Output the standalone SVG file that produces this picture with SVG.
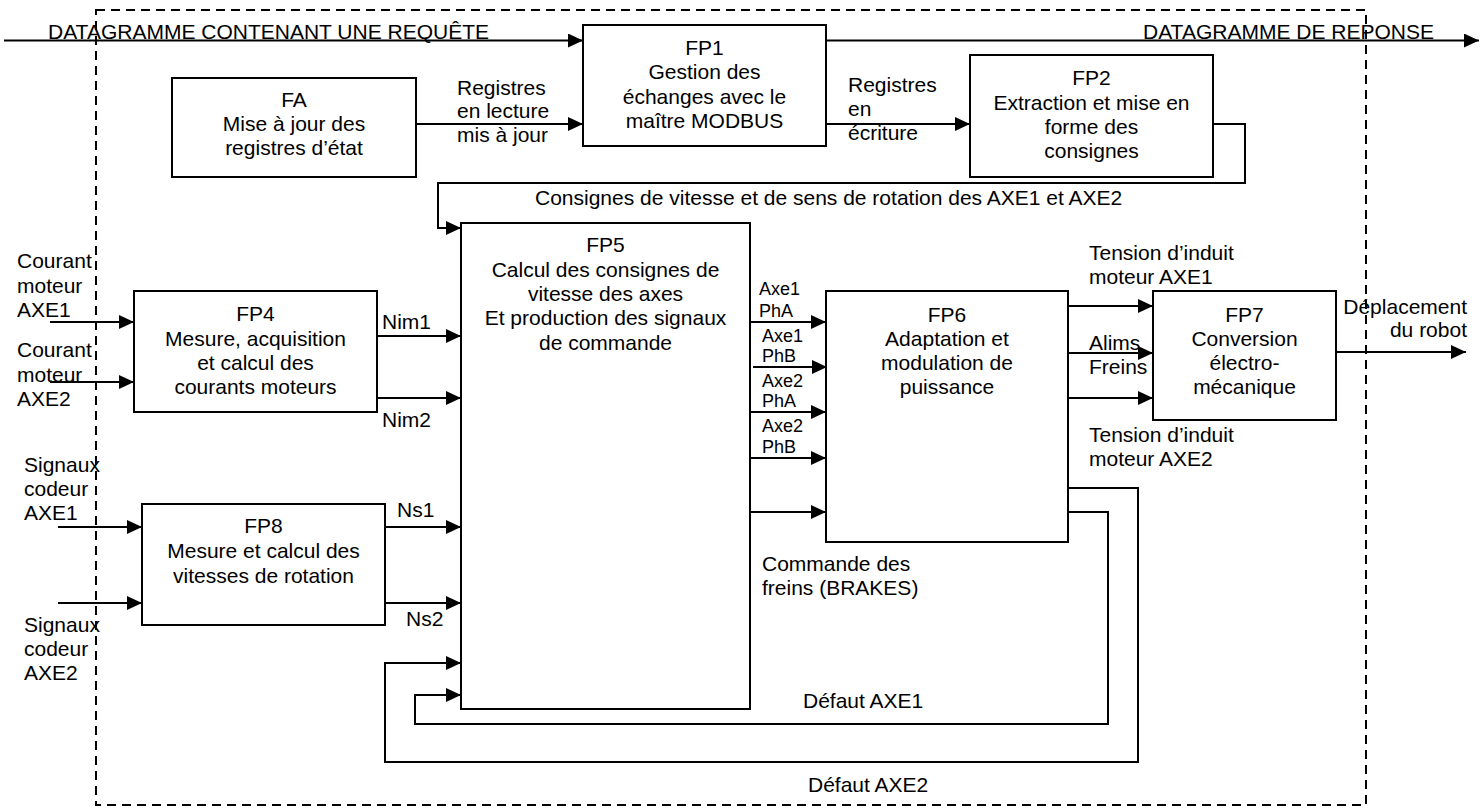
<svg xmlns="http://www.w3.org/2000/svg" width="1481" height="809" viewBox="0 0 1481 809">
<defs>
<marker id="ah" markerUnits="userSpaceOnUse" markerWidth="15" markerHeight="14" refX="15" refY="7" orient="auto"><path d="M0,0 L15,7 L0,14 z" fill="#000"/></marker>
<style>
.box{fill:#fff;stroke:#000;stroke-width:2}
.ln{fill:none;stroke:#000;stroke-width:2}
.ar{marker-end:url(#ah)}
.bd{fill:none;stroke:#000;stroke-width:2;stroke-dasharray:9,6}
text{font-family:"Liberation Sans",Arial,sans-serif;font-size:21px;fill:#000}
.c{text-anchor:middle}
.s{font-size:18px}
.e{text-anchor:end}
</style>
</defs>
<rect id="boundary" class="bd" x="96" y="10" width="1270" height="795"/>
<g id="connectors">
<path class="ln ar" d="M4,40.5 H583"/>
<path class="ln ar" d="M826,40.5 H1479"/>
<path class="ln ar" d="M416,124 H583"/>
<path class="ln ar" d="M826,124 H970"/>
<path class="ln ar" d="M1213,124 H1245 V183 H438 V228 H461"/>
<path class="ln ar" d="M50,322 H134"/>
<path class="ln ar" d="M50,382 H134"/>
<path class="ln ar" d="M377,336 H461"/>
<path class="ln ar" d="M377,398 H461"/>
<path class="ln ar" d="M58,527 H142"/>
<path class="ln ar" d="M58,603 H142"/>
<path class="ln ar" d="M385,527 H461"/>
<path class="ln ar" d="M385,603 H461"/>
<path class="ln ar" d="M750,322 H826"/>
<path class="ln ar" d="M753,367 H827"/>
<path class="ln ar" d="M750,412 H826"/>
<path class="ln ar" d="M750,458 H826"/>
<path class="ln ar" d="M750,512 H826"/>
<path class="ln ar" d="M1068,306 H1153"/>
<path class="ln ar" d="M1068,353 H1153"/>
<path class="ln ar" d="M1068,398 H1153"/>
<path class="ln ar" d="M1336,352 H1466"/>
<path class="ln ar" d="M1068,488 H1138 V762 H385 V663 H461"/>
<path class="ln ar" d="M1068,512 H1108 V724 H415 V695 H461"/>
<text x="48" y="39">DATAGRAMME CONTENANT UNE REQUÊTE</text>
<text x="1143" y="39">DATAGRAMME DE REPONSE</text>
<text x="457" y="95">Registres</text>
<text x="457" y="118">en lecture</text>
<text x="457" y="142">mis à jour</text>
<text x="848" y="92">Registres</text>
<text x="848" y="116">en</text>
<text x="848" y="140">écriture</text>
<text x="535" y="205">Consignes de vitesse et de sens de rotation des AXE1 et AXE2</text>
<text x="17" y="268">Courant</text>
<text x="17" y="293">moteur</text>
<text x="17" y="317">AXE1</text>
<text x="17" y="357">Courant</text>
<text x="17" y="382">moteur</text>
<text x="17" y="406">AXE2</text>
<text x="382" y="329">Nim1</text>
<text x="382" y="427">Nim2</text>
<text x="24" y="472">Signaux</text>
<text x="24" y="496">codeur</text>
<text x="24" y="520">AXE1</text>
<text x="24" y="632">Signaux</text>
<text x="24" y="656">codeur</text>
<text x="24" y="680">AXE2</text>
<text x="397" y="517">Ns1</text>
<text x="406" y="626">Ns2</text>
<text class="s" x="759" y="295">Axe1</text>
<text class="s" x="759" y="317">PhA</text>
<text class="s" x="762" y="342">Axe1</text>
<text class="s" x="762" y="362">PhB</text>
<text class="s" x="762" y="387">Axe2</text>
<text class="s" x="762" y="407">PhA</text>
<text class="s" x="762" y="432">Axe2</text>
<text class="s" x="762" y="453">PhB</text>
<text x="762" y="571">Commande des</text>
<text x="762" y="595">freins (BRAKES)</text>
<text x="803" y="708">Défaut AXE1</text>
<text x="808" y="792">Défaut AXE2</text>
<text x="1089" y="260">Tension d’induit</text>
<text x="1089" y="284">moteur AXE1</text>
<text x="1089" y="350">Alims</text>
<text x="1089" y="374">Freins</text>
<text x="1089" y="442">Tension d’induit</text>
<text x="1089" y="466">moteur AXE2</text>
<text class="e" x="1467" y="314">Déplacement</text>
<text class="e" x="1467" y="337">du robot</text>
</g>
<g id="FA">
<rect class="box" x="172" y="78" width="244" height="99"/>
<text class="c" x="294" y="107">FA</text>
<text class="c" x="294" y="131">Mise à jour des</text>
<text class="c" x="294" y="155">registres d’état</text>
</g>
<g id="FP1">
<rect class="box" x="583" y="25" width="243" height="121"/>
<text class="c" x="704.5" y="55">FP1</text>
<text class="c" x="704.5" y="79">Gestion des</text>
<text class="c" x="704.5" y="103.5">échanges avec le</text>
<text class="c" x="704.5" y="128">maître MODBUS</text>
</g>
<g id="FP2">
<rect class="box" x="970" y="55" width="243" height="122"/>
<text class="c" x="1091.5" y="85">FP2</text>
<text class="c" x="1091.5" y="109.5">Extraction et mise en</text>
<text class="c" x="1091.5" y="134">forme des</text>
<text class="c" x="1091.5" y="158">consignes</text>
</g>
<g id="FP4">
<rect class="box" x="134" y="291" width="243" height="121"/>
<text class="c" x="255.5" y="321">FP4</text>
<text class="c" x="255.5" y="345.5">Mesure, acquisition</text>
<text class="c" x="255.5" y="370">et calcul des</text>
<text class="c" x="255.5" y="394">courants moteurs</text>
</g>
<g id="FP5">
<rect class="box" x="461" y="223" width="289" height="486"/>
<text class="c" x="605.5" y="252">FP5</text>
<text class="c" x="605.5" y="276.5">Calcul des consignes de</text>
<text class="c" x="605.5" y="301">vitesse des axes</text>
<text class="c" x="605.5" y="325">Et production des signaux</text>
<text class="c" x="605.5" y="350">de commande</text>
</g>
<g id="FP6">
<rect class="box" x="826" y="291" width="242" height="251"/>
<text class="c" x="947" y="322">FP6</text>
<text class="c" x="947" y="346">Adaptation et</text>
<text class="c" x="947" y="370">modulation de</text>
<text class="c" x="947" y="394">puissance</text>
</g>
<g id="FP7">
<rect class="box" x="1153" y="291" width="183" height="129"/>
<text class="c" x="1244.5" y="322">FP7</text>
<text class="c" x="1244.5" y="346">Conversion</text>
<text class="c" x="1244.5" y="370">électro-</text>
<text class="c" x="1244.5" y="394">mécanique</text>
</g>
<g id="FP8">
<rect class="box" x="142" y="504" width="243" height="121"/>
<text class="c" x="263.5" y="533">FP8</text>
<text class="c" x="263.5" y="558">Mesure et calcul des</text>
<text class="c" x="263.5" y="583">vitesses de rotation</text>
</g>
</svg>
